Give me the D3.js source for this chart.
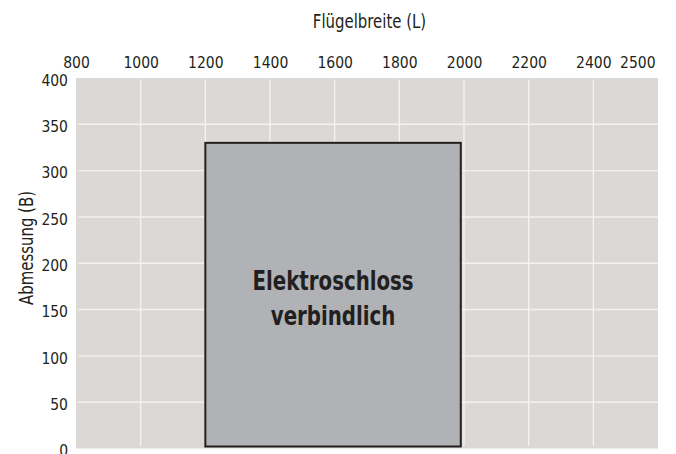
<!DOCTYPE html>
<html>
<head>
<meta charset="utf-8">
<script src="https://cdn.jsdelivr.net/npm/d3@7"></script>
<style>
  html, body { margin: 0; padding: 0; background: #ffffff; }
  svg { display: block; }
  text { font-family: "Liberation Sans Narrow", "DejaVu Sans Condensed", "DejaVu Sans", sans-serif; fill: #231f20; }
</style>
</head>
<body>
<svg id="chart" width="676" height="454"></svg>
<script>
// Tick labels along the width axis (mm) and the height axis
const xTickLabels = [800, 1000, 1200, 1400, 1600, 1800, 2000, 2200, 2400, 2500];
const xGridValues = [1000, 1200, 1400, 1600, 1800, 2000, 2200, 2400];
const yTickLabels = [0, 50, 100, 150, 200, 250, 300, 350, 400];
const xDomain = [800, 2600];
const yDomain = [0, 400];

// Shaded region: width range (L) and height range (B)
const regionWidth = [1200, 1990];
const regionHeight = [0, 330];
const regionLabel = ["Elektroschloss", "verbindlich"];

const xTitle = "Flügelbreite (L)";
const yTitle = "Abmessung (B)";

const svg = d3.select("#chart");
const plot = { left: 76, right: 658, top: 78, bottom: 448.5 };
const narrow = 0.83; // horizontal squeeze for a condensed look

const x = d3.scaleLinear().domain(xDomain).range([plot.left, plot.right]);
const y = d3.scaleLinear().domain(yDomain).range([plot.bottom, plot.top]);

// plot background
svg.append("rect")
  .attr("x", plot.left).attr("y", plot.top)
  .attr("width", plot.right - plot.left)
  .attr("height", plot.bottom - plot.top)
  .attr("fill", "#dcd8d5");

// grid lines
const grid = svg.append("g").attr("stroke", "#f4f2f0").attr("stroke-width", 1.4);
grid.selectAll("line.h")
  .data(yTickLabels.filter(v => v > 0 && v < 400))
  .join("line").attr("class", "h")
  .attr("x1", plot.left + 2.5).attr("x2", plot.right)
  .attr("y1", d => y(d)).attr("y2", d => y(d));
grid.selectAll("line.v")
  .data(xGridValues)
  .join("line").attr("class", "v")
  .attr("x1", d => x(d)).attr("x2", d => x(d))
  .attr("y1", plot.top + 1.5).attr("y2", plot.bottom - 2.5);

// x axis labels (top)
const xAxis = d3.axisTop(x).tickValues(xTickLabels).tickSize(0).tickPadding(0)
  .tickFormat(d3.format("d"));
const gx = svg.append("g").attr("transform", "translate(0,67.5)").call(xAxis);
gx.select(".domain").remove();
gx.selectAll("text")
  .attr("font-size", 15.5)
  .attr("fill", "#231f20")
  .attr("dy", 0)
  .attr("font-family", null);
// outermost label sits flush with the plot's right edge
gx.selectAll(".tick").filter(d => d === xTickLabels[xTickLabels.length - 1])
  .select("text")
  .attr("text-anchor", "end")
  .attr("x", plot.right - 3 - x(xTickLabels[xTickLabels.length - 1]));

// y axis labels (left)
const yAxis = d3.axisLeft(y).tickValues(yTickLabels).tickSize(0).tickPadding(8)
  .tickFormat(d3.format("d"));
const gy = svg.append("g").attr("transform", `translate(${plot.left},0)`).call(yAxis);
gy.select(".domain").remove();
gy.selectAll("text")
  .attr("font-size", 15.5)
  .attr("fill", "#231f20")
  .attr("dy", "0.62em")
  .attr("y", -2.5)
  .attr("font-family", null);

// shaded region
svg.append("rect")
  .attr("x", x(regionWidth[0]))
  .attr("y", y(regionHeight[1]))
  .attr("width", x(regionWidth[1]) - x(regionWidth[0]))
  .attr("height", y(regionHeight[0]) - y(regionHeight[1]) - 2)
  .attr("fill", "#b1b2b5")
  .attr("stroke", "#231f20")
  .attr("stroke-width", 2);

// region label
const cx = (x(regionWidth[0]) + x(regionWidth[1])) / 2;
const cy = (y(regionHeight[0]) + y(regionHeight[1])) / 2;
const lineGap = 34.5;
svg.append("g")
  .attr("transform", `translate(${cx},0) scale(${narrow},1)`)
  .append("text")
  .attr("text-anchor", "middle")
  .attr("font-size", 26.5)
  .attr("font-weight", "bold")
  .selectAll("tspan")
  .data(regionLabel)
  .join("tspan")
  .attr("x", 0)
  .attr("y", (d, i) => cy + (i - (regionLabel.length - 1) / 2) * lineGap + 12)
  .text(d => d);

// axis titles
svg.append("text")
  .attr("transform", `translate(${(plot.left + plot.right) / 2 + 2.5},27.7) scale(${narrow},1)`)
  .attr("text-anchor", "middle")
  .attr("font-size", 20)
  .text(xTitle);

svg.append("text")
  .attr("transform", `translate(32.5,248) rotate(-90) scale(${narrow},1)`)
  .attr("text-anchor", "middle")
  .attr("font-size", 20)
  .text(yTitle);
</script>
</body>
</html>
